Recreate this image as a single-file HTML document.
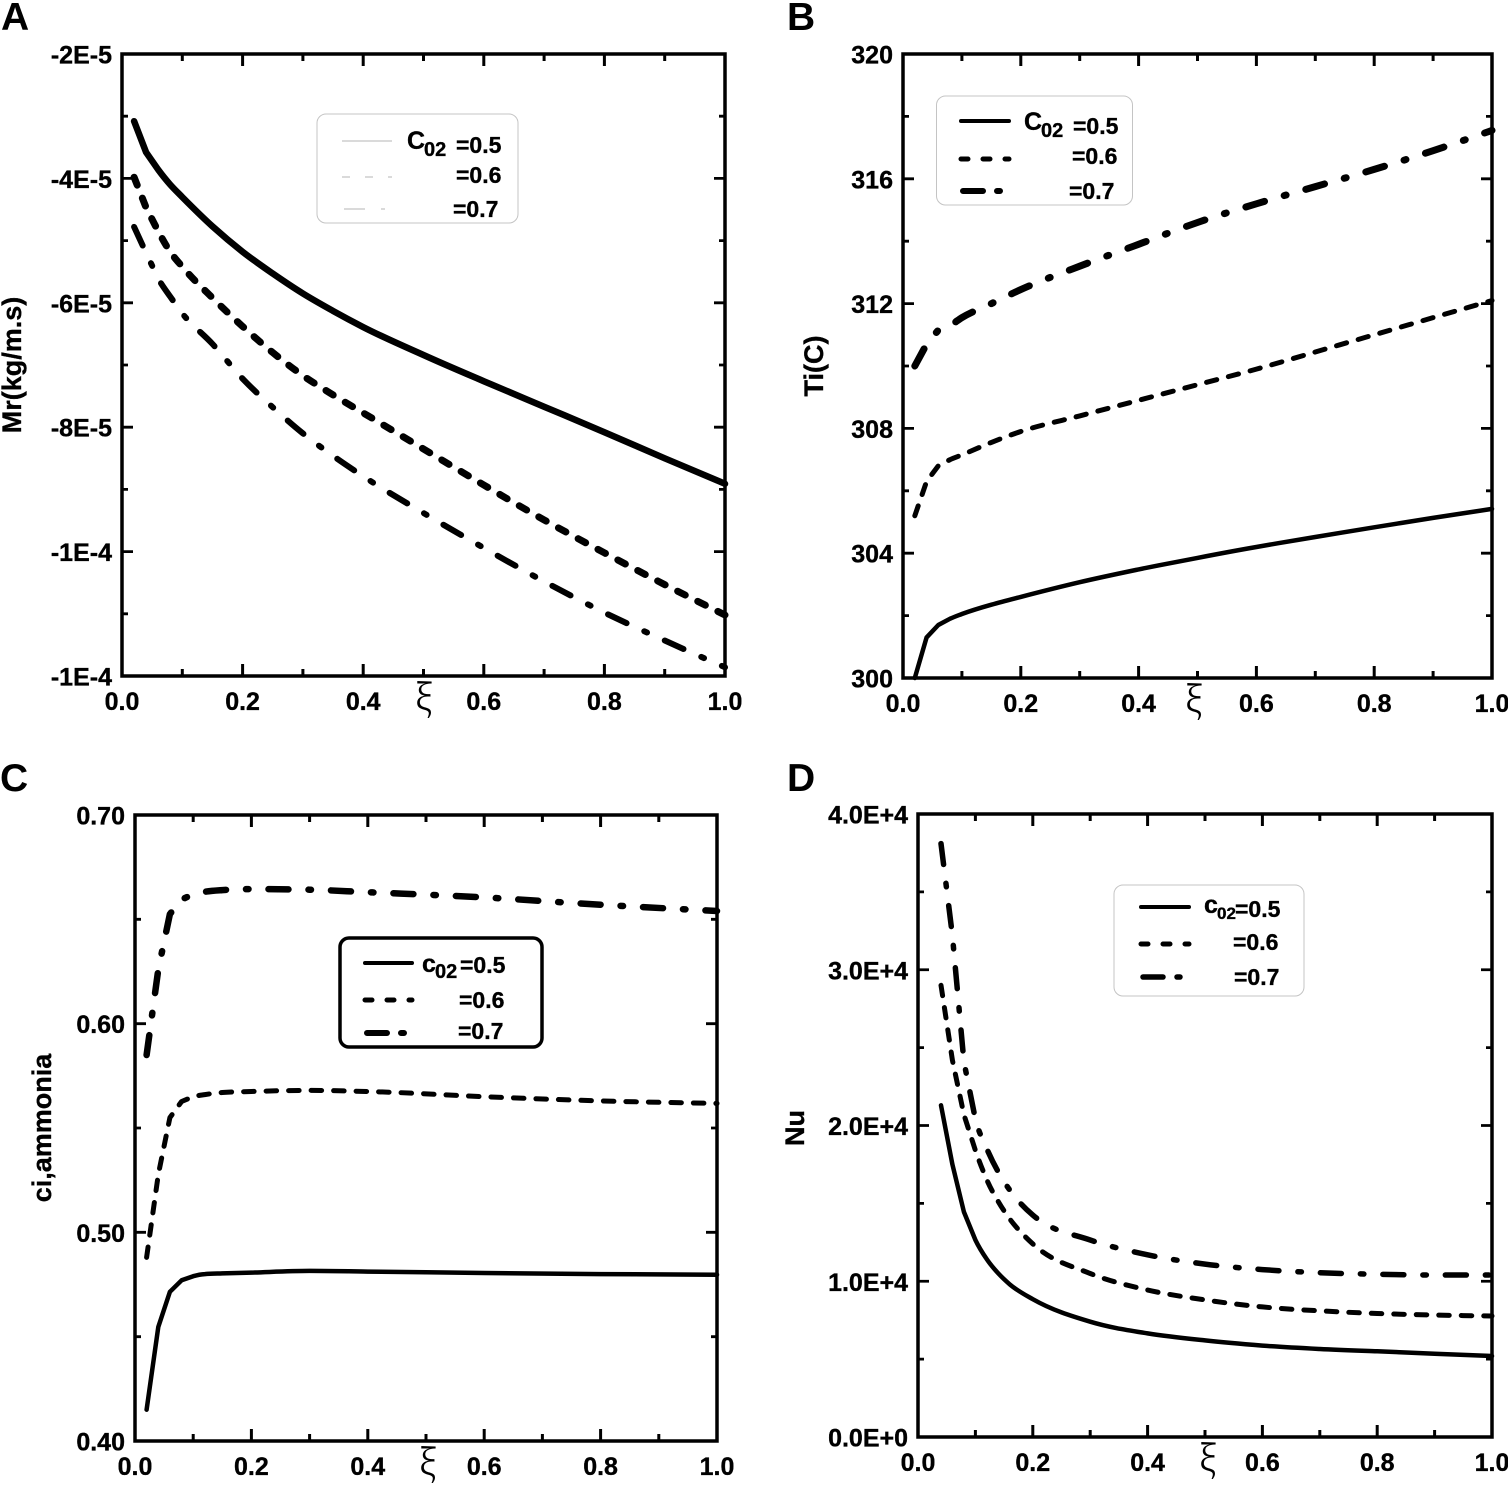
<!DOCTYPE html>
<html lang="en">
<head>
<meta charset="utf-8">
<title>Four panel chart</title>
<style>
html,body{margin:0;padding:0;background:#fff;}
svg{display:block;}
text{font-family:"Liberation Sans",Arial,sans-serif;font-weight:bold;fill:#000;stroke:#000;stroke-width:.35px;}
.xi{font-family:"Noto Serif CJK SC","Liberation Serif",serif;font-weight:normal;font-size:36px;stroke:none;}
.leg{font-size:23px;}
.legc{font-size:25px;}
.sub{font-size:20px;}
</style>
</head>
<body>
<svg id="chart" xmlns="http://www.w3.org/2000/svg" width="1508" height="1485" viewBox="0 0 1508 1485">
  <rect x="0" y="0" width="1508" height="1485" fill="#fff"/>
  <g id="panels"></g>

  <g>
    <rect x="317" y="114" width="201" height="109" rx="9" fill="#fff" stroke="#c4c4c4" stroke-width="1"/>
    <line x1="342" y1="141" x2="392" y2="141" stroke="#b4b4b4" stroke-width="1"/>
    <line x1="342" y1="177" x2="392" y2="177" stroke="#b4b4b4" stroke-width="1" stroke-dasharray="8 15"/>
    <line x1="344" y1="209" x2="389" y2="209" stroke="#b4b4b4" stroke-width="1" stroke-dasharray="21 16 4 100"/>
    <text x="407" y="149" class="legc">C</text>
    <text x="424" y="156" class="sub">02</text>
    <text x="456" y="153" class="leg">=0.5</text>
    <text x="456" y="183" class="leg">=0.6</text>
    <text x="453" y="217" class="leg">=0.7</text>
  </g>

  <g>
    <rect x="936.500" y="96" width="196" height="109" rx="9" fill="#fff" stroke="#c4c4c4" stroke-width="1"/>
    <line x1="961" y1="121" x2="1009" y2="121" stroke="#000" stroke-width="4" stroke-linecap="round"/>
    <line x1="961" y1="159" x2="1009" y2="159" stroke="#000" stroke-width="5" stroke-linecap="round" stroke-dasharray="7 15"/>
    <line x1="963" y1="191" x2="1007" y2="191" stroke="#000" stroke-width="6" stroke-linecap="round" stroke-dasharray="20 14 3 100"/>
    <text x="1024" y="130" class="legc">C</text>
    <text x="1041" y="137" class="sub">02</text>
    <text x="1073" y="134" class="leg">=0.5</text>
    <text x="1072" y="164" class="leg">=0.6</text>
    <text x="1069" y="199" class="leg">=0.7</text>
  </g>

  <g>
    <rect x="340" y="938" width="202" height="109" rx="9" fill="#fff" stroke="#000" stroke-width="3.500"/>
    <line x1="365" y1="963" x2="412" y2="963" stroke="#000" stroke-width="4" stroke-linecap="round"/>
    <line x1="365" y1="1000" x2="412" y2="1000" stroke="#000" stroke-width="5" stroke-linecap="round" stroke-dasharray="7 15"/>
    <line x1="367" y1="1033" x2="411" y2="1033" stroke="#000" stroke-width="6" stroke-linecap="round" stroke-dasharray="20 14 3 100"/>
    <text x="422" y="972" class="legc">c</text>
    <text x="435" y="978" class="sub">02</text>
    <text x="460" y="973" class="leg">=0.5</text>
    <text x="459" y="1008" class="leg">=0.6</text>
    <text x="458" y="1039" class="leg">=0.7</text>
  </g>

  <g>
    <rect x="1114" y="885" width="190" height="111" rx="9" fill="#fff" stroke="#c4c4c4" stroke-width="1"/>
    <line x1="1141" y1="907" x2="1189" y2="907" stroke="#000" stroke-width="4" stroke-linecap="round"/>
    <line x1="1141" y1="944" x2="1189" y2="944" stroke="#000" stroke-width="5" stroke-linecap="round" stroke-dasharray="7 15"/>
    <line x1="1143" y1="977" x2="1186" y2="977" stroke="#000" stroke-width="5.500" stroke-linecap="round" stroke-dasharray="20 14 3 100"/>
    <text x="1204" y="913" class="legc">c</text>
    <text x="1217" y="919" style="font-size:17px">02</text>
    <text x="1235" y="917" class="leg">=0.5</text>
    <text x="1233" y="950" class="leg">=0.6</text>
    <text x="1234" y="985" class="leg">=0.7</text>
  </g>
</svg>

<script>
// Shared x tick labels
const xTickLabels = ['0.0', '0.2', '0.4', '0.6', '0.8', '1.0'];
const xTickValues = [0, 0.2, 0.4, 0.6, 0.8, 1.0];

// Panel A: Mr in units of 1E-5 kg/m.s
const aXi = [0.02, 0.04, 0.06, 0.08, 0.1, 0.15, 0.2, 0.25, 0.3, 0.35, 0.4, 0.5, 0.6, 0.7, 0.8, 0.9, 1.0];
const aSeries05 = [-3.08, -3.58, -3.86, -4.1, -4.3, -4.77, -5.18, -5.53, -5.85, -6.13, -6.39, -6.84, -7.26, -7.67, -8.08, -8.5, -8.91];
const aSeries06 = [-3.98, -4.47, -4.85, -5.18, -5.42, -5.92, -6.38, -6.8, -7.17, -7.48, -7.77, -8.35, -8.93, -9.49, -10.02, -10.53, -11.02];
const aSeries07 = [-4.78, -5.2, -5.61, -5.9, -6.17, -6.66, -7.22, -7.68, -8.1, -8.46, -8.79, -9.38, -9.94, -10.48, -10.98, -11.43, -11.86];
const aYTickValues = [-2, -4, -6, -8, -10, -12];
const aYTickLabels = ['-2E-5', '-4E-5', '-6E-5', '-8E-5', '-1E-4', '-1E-4'];

// Panel B: Ti in C
const bXi = [0.02, 0.04, 0.06, 0.08, 0.1, 0.15, 0.2, 0.3, 0.4, 0.5, 0.6, 0.7, 0.8, 0.9, 1.0];
const bSeries05 = [300, 301.3, 301.7, 301.9, 302.05, 302.35, 302.6, 303.07, 303.48, 303.85, 304.2, 304.52, 304.83, 305.13, 305.42];
const bSeries06 = [305.2, 306.3, 306.8, 307.0, 307.15, 307.55, 307.9, 308.4, 308.9, 309.4, 309.9, 310.45, 311.0, 311.55, 312.1];
const bSeries07 = [310, 310.7, 311.15, 311.3, 311.55, 312.0, 312.45, 313.2, 313.9, 314.6, 315.2, 315.75, 316.3, 316.9, 317.55];
const bYTickValues = [300, 304, 308, 312, 316, 320];
const bYTickLabels = ['300', '304', '308', '312', '316', '320'];

// Panel C: ci,ammonia
const cXi = [0.02, 0.04, 0.06, 0.08, 0.1, 0.12, 0.15, 0.2, 0.3, 0.4, 0.6, 0.8, 1.0];
const cSeries05 = [0.415, 0.4547, 0.4715, 0.477, 0.479, 0.48, 0.4803, 0.4807, 0.4815, 0.4812, 0.4805, 0.48, 0.4797];
const cSeries06 = [0.488, 0.5277, 0.555, 0.5627, 0.565, 0.566, 0.567, 0.5675, 0.568, 0.5675, 0.565, 0.563, 0.5618];
const cSeries07 = [0.585, 0.626, 0.6525, 0.6595, 0.662, 0.6632, 0.664, 0.6645, 0.6642, 0.663, 0.6605, 0.657, 0.654];
const cYTickValues = [0.4, 0.5, 0.6, 0.7];
const cYTickLabels = ['0.40', '0.50', '0.60', '0.70'];

// Panel D: Nu
const dXi = [0.04, 0.06, 0.08, 0.1, 0.12, 0.14, 0.16, 0.2, 0.3, 0.4, 0.5, 0.6, 0.7, 0.8, 0.9, 1.0];
const dSeries05 = [21300, 17500, 14450, 12650, 11400, 10500, 9800, 8850, 7400, 6650, 6200, 5870, 5650, 5500, 5350, 5200];
const dSeries06 = [29000, 24200, 20700, 18400, 16500, 15100, 14000, 12400, 10500, 9440, 8800, 8350, 8100, 7930, 7830, 7770];
const dSeries07 = [38100, 32200, 24100, 20400, 18500, 17000, 15850, 14250, 12650, 11700, 11100, 10750, 10550, 10450, 10400, 10400];
const dYTickValues = [0, 10000, 20000, 30000, 40000];
const dYTickLabels = ['0.0E+0', '1.0E+4', '2.0E+4', '3.0E+4', '4.0E+4'];

const SVGNS = 'http://www.w3.org/2000/svg';
const panelRoot = document.getElementById('panels');

function make(parent, tag, attrs, content) {
  const node = document.createElementNS(SVGNS, tag);
  for (const key in attrs) node.setAttribute(key, attrs[key]);
  if (content !== undefined) node.textContent = content;
  parent.appendChild(node);
  return node;
}

function dashFor(style, w) {
  if (style === 'dash') return (15.5 - w) + ' ' + (7 + w);
  if (style === 'dashdot') return (26.5 - w) + ' ' + (13.5 + w) + ' ' + Math.max(1, 9 - w) + ' ' + (13.5 + w);
  return null;
}

// Straight through the coarse start of the curve, monotone cubic afterwards.
function curvePath(px, py, linearUntil) {
  const n = px.length;
  const slope = [];
  for (let i = 0; i < n - 1; i++) slope.push((py[i + 1] - py[i]) / (px[i + 1] - px[i]));
  const m = new Array(n).fill(0);
  for (let i = 1; i < n - 1; i++) {
    const h0 = px[i] - px[i - 1];
    const h1 = px[i + 1] - px[i];
    const s0 = slope[i - 1];
    const s1 = slope[i];
    const q = (s0 * h1 + s1 * h0) / (h0 + h1);
    m[i] = (Math.sign(s0) + Math.sign(s1)) * Math.min(Math.abs(s0), Math.abs(s1), 0.5 * Math.abs(q));
  }
  m[n - 1] = (3 * slope[n - 2] - m[n - 2]) / 2;
  let d = 'M' + px[0].toFixed(1) + ' ' + py[0].toFixed(1);
  for (let i = 0; i < n - 1; i++) {
    if (i < linearUntil) {
      d += 'L' + px[i + 1].toFixed(1) + ' ' + py[i + 1].toFixed(1);
    } else {
      const h = (px[i + 1] - px[i]) / 3;
      d += 'C' + (px[i] + h).toFixed(1) + ' ' + (py[i] + m[i] * h).toFixed(1) + ' ' +
        (px[i + 1] - h).toFixed(1) + ' ' + (py[i + 1] - m[i + 1] * h).toFixed(1) + ' ' +
        px[i + 1].toFixed(1) + ' ' + py[i + 1].toFixed(1);
    }
  }
  return d;
}

function drawPanel(p) {
  const xScale = v => p.left + (v - 0) / (1 - 0) * (p.right - p.left);
  const yScale = v => p.bottom - (v - p.yMin) / (p.yMax - p.yMin) * (p.bottom - p.top);

  const g = make(panelRoot, 'g', {});
  
  

  const letter = make(g, 'text', { x: p.letterX, y: p.letterY, style: 'font-size:39px;stroke-width:0' }, p.letter);
  
  

  p.series.forEach(function (s) {
    const attrs = {
      d: curvePath(p.xi.map(xScale), s.values.map(yScale), p.linearUntil),
      fill: 'none', stroke: '#000', 'stroke-width': s.width, 'stroke-linecap': 'round', 'stroke-linejoin': 'round'
    };
    const dash = dashFor(s.style, s.width);
    if (dash) attrs['stroke-dasharray'] = dash;
    const line = make(g, 'path', attrs);
    
    
  });

  const frame = make(g, 'rect', {
    x: p.left, y: p.top, width: p.right - p.left, height: p.bottom - p.top,
    fill: 'none', stroke: '#000', 'stroke-width': 3.5
  });
  
  

  for (let i = 0; i < xTickValues.length; i++) {
    const x = xScale(xTickValues[i]);
    const label = make(g, 'text', { x: x, y: p.bottom + 34, 'text-anchor': 'middle', style: 'font-size:25px' }, xTickLabels[i]);
    
    
    const tb = make(g, 'path', { d: 'M' + x + ' ' + p.bottom + 'v-12M' + x + ' ' + p.top + 'v12', stroke: '#000', 'stroke-width': 3, fill: 'none' });
    
    
    if (i < xTickValues.length - 1) {
      const mx = xScale((xTickValues[i] + xTickValues[i + 1]) / 2);
      const tm = make(g, 'path', { d: 'M' + mx + ' ' + p.bottom + 'v-7M' + mx + ' ' + p.top + 'v7', stroke: '#000', 'stroke-width': 3, fill: 'none' });
      
      
    }
  }

  for (let i = 0; i < p.yTickValues.length; i++) {
    const y = yScale(p.yTickValues[i]);
    const label = make(g, 'text', { x: p.left - 10, y: y + 9.5, 'text-anchor': 'end', style: 'font-size:25px' }, p.yTickLabels[i]);
    
    
    const tb = make(g, 'path', { d: 'M' + p.left + ' ' + y + 'h11M' + p.right + ' ' + y + 'h-11', stroke: '#000', 'stroke-width': 2.8, fill: 'none' });
    
    
    if (i < p.yTickValues.length - 1) {
      const my = yScale((p.yTickValues[i] + p.yTickValues[i + 1]) / 2);
      const tm = make(g, 'path', { d: 'M' + p.left + ' ' + my + 'h6M' + p.right + ' ' + my + 'h-6', stroke: '#000', 'stroke-width': 2.8, fill: 'none' });
      
      
    }
  }

  const xt = make(g, 'text', { x: p.xiX, y: p.bottom + 34, 'text-anchor': 'middle', class: 'xi' }, 'ξ');
  
  

  const yt = make(g, 'text', {
    x: 0, y: 0, 'text-anchor': 'middle', style: 'font-size:27px',
    transform: 'translate(' + p.yTitleX + ' ' + p.yTitleY + ') rotate(-90)'
  }, p.yTitle);
  
  
}

drawPanel({
  id: 'a', letter: 'A', letterX: 1, letterY: 30, linearUntil: 2,
  left: 122, right: 725, top: 54, bottom: 676,
  yMin: -12, yMax: -2, yTickValues: aYTickValues, yTickLabels: aYTickLabels,
  yTitle: 'Mr(kg/m.s)', yTitleX: 21, yTitleY: 365, xiX: 424, xi: aXi,
  series: [
    { name: 'c02-0-5', values: aSeries05, style: 'solid', width: 6.5 },
    { name: 'c02-0-6', values: aSeries06, style: 'dash', width: 7 },
    { name: 'c02-0-7', values: aSeries07, style: 'dashdot', width: 6 }
  ]
});

drawPanel({
  id: 'b', letter: 'B', letterX: 787, letterY: 30, linearUntil: 3,
  left: 903, right: 1492, top: 54, bottom: 678,
  yMin: 300, yMax: 320, yTickValues: bYTickValues, yTickLabels: bYTickLabels,
  yTitle: 'Ti(C)', yTitleX: 823, yTitleY: 366, xiX: 1194, xi: bXi,
  series: [
    { name: 'c02-0-5', values: bSeries05, style: 'solid', width: 4.5 },
    { name: 'c02-0-6', values: bSeries06, style: 'dash', width: 5 },
    { name: 'c02-0-7', values: bSeries07, style: 'dashdot', width: 7 }
  ]
});

drawPanel({
  id: 'c', letter: 'C', letterX: 0, letterY: 791, linearUntil: 4,
  left: 135, right: 717, top: 815, bottom: 1441,
  yMin: 0.4, yMax: 0.7, yTickValues: cYTickValues, yTickLabels: cYTickLabels,
  yTitle: 'ci,ammonia', yTitleX: 51, yTitleY: 1128, xiX: 428, xi: cXi,
  series: [
    { name: 'c02-0-5', values: cSeries05, style: 'solid', width: 4.5 },
    { name: 'c02-0-6', values: cSeries06, style: 'dash', width: 5 },
    { name: 'c02-0-7', values: cSeries07, style: 'dashdot', width: 6.5 }
  ]
});

drawPanel({
  id: 'd', letter: 'D', letterX: 787, letterY: 791, linearUntil: 3,
  left: 918, right: 1492, top: 814, bottom: 1437,
  yMin: 0, yMax: 40000, yTickValues: dYTickValues, yTickLabels: dYTickLabels,
  yTitle: 'Nu', yTitleX: 804, yTitleY: 1128, xiX: 1208, xi: dXi,
  series: [
    { name: 'c02-0-5', values: dSeries05, style: 'solid', width: 4.5 },
    { name: 'c02-0-6', values: dSeries06, style: 'dash', width: 5 },
    { name: 'c02-0-7', values: dSeries07, style: 'dashdot', width: 5.5 }
  ]
});
</script>
</body>
</html>
